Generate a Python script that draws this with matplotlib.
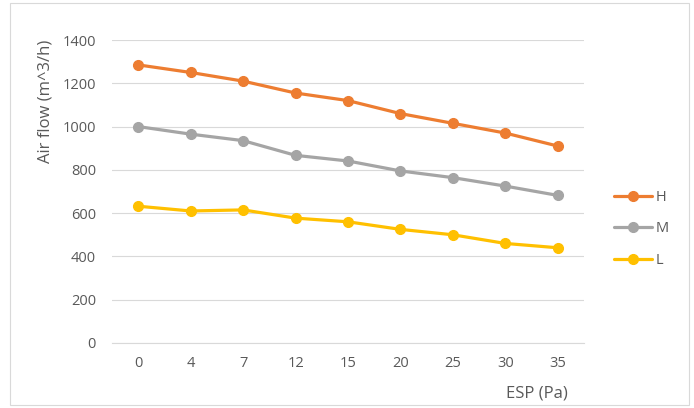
import matplotlib
matplotlib.use("Agg")
import matplotlib.pyplot as plt
from matplotlib.patches import Rectangle

categories = ["0", "4", "7", "12", "15", "20", "25", "30", "35"]
H = [1285, 1250, 1210, 1155, 1120, 1060, 1015, 970, 910]
M = [1000, 965, 935, 867, 841, 795, 764, 725, 682]
L = [632, 610, 615, 577, 560, 525, 500, 460, 440]
yticks = [0, 200, 400, 600, 800, 1000, 1200, 1400]

plt.rcParams['font.family'] = ['Open Sans', 'DejaVu Sans']
txt = '#595959'

fig = plt.figure(figsize=(6.94, 4.08), dpi=100)
fig.patches.append(Rectangle((10/694, 3/408), 679/694, 402/408, transform=fig.transFigure,
                             fill=False, edgecolor='#D9D9D9', linewidth=0.8))
ax = fig.add_axes([112/694, 1-343/408, 472/694, 303/408])
x = list(range(len(categories)))
series = [("H", H, '#ED7D31'), ("M", M, '#A5A5A5'), ("L", L, '#FFC000')]
handles = []
for name, vals, c in series:
    h, = ax.plot(x, vals, color=c, linewidth=2.3, marker='o', markersize=7, label=name,
                 solid_capstyle='round', zorder=3)
    handles.append(h)

ax.set_xlim(-0.5, len(categories) - 0.5)
ax.set_ylim(0, 1400)
ax.set_yticks(yticks)
ax.set_xticks(x)
ax.set_xticklabels(categories)
ax.grid(axis='y', color='#D9D9D9', linewidth=0.8)
ax.set_axisbelow(True)
for s in ['top', 'right', 'left']:
    ax.spines[s].set_visible(False)
ax.spines['bottom'].set_color('#D9D9D9')
ax.spines['bottom'].set_linewidth(0.8)
ax.tick_params(axis='both', length=0, colors=txt, labelsize=10.5)
ax.tick_params(axis='y', pad=11.5)
ax.tick_params(axis='x', pad=9.5)

fig.text(46/694, 1-101/408, "Air flow (m^3/h)", rotation=90, ha='center', va='center',
         color=txt, fontsize=12)
fig.text(568/694, 1-393/408, "ESP (Pa)", ha='right', va='center', color=txt, fontsize=12)

leg = fig.legend(handles=handles, loc='center left', bbox_to_anchor=(607/694, 1-229/408),
                 frameon=False, fontsize=10.5, labelspacing=1.15, handlelength=2.6,
                 handletextpad=0.25, borderpad=0)
for t in leg.get_texts():
    t.set_color(txt)

fig.savefig("out.png", dpi=100)
